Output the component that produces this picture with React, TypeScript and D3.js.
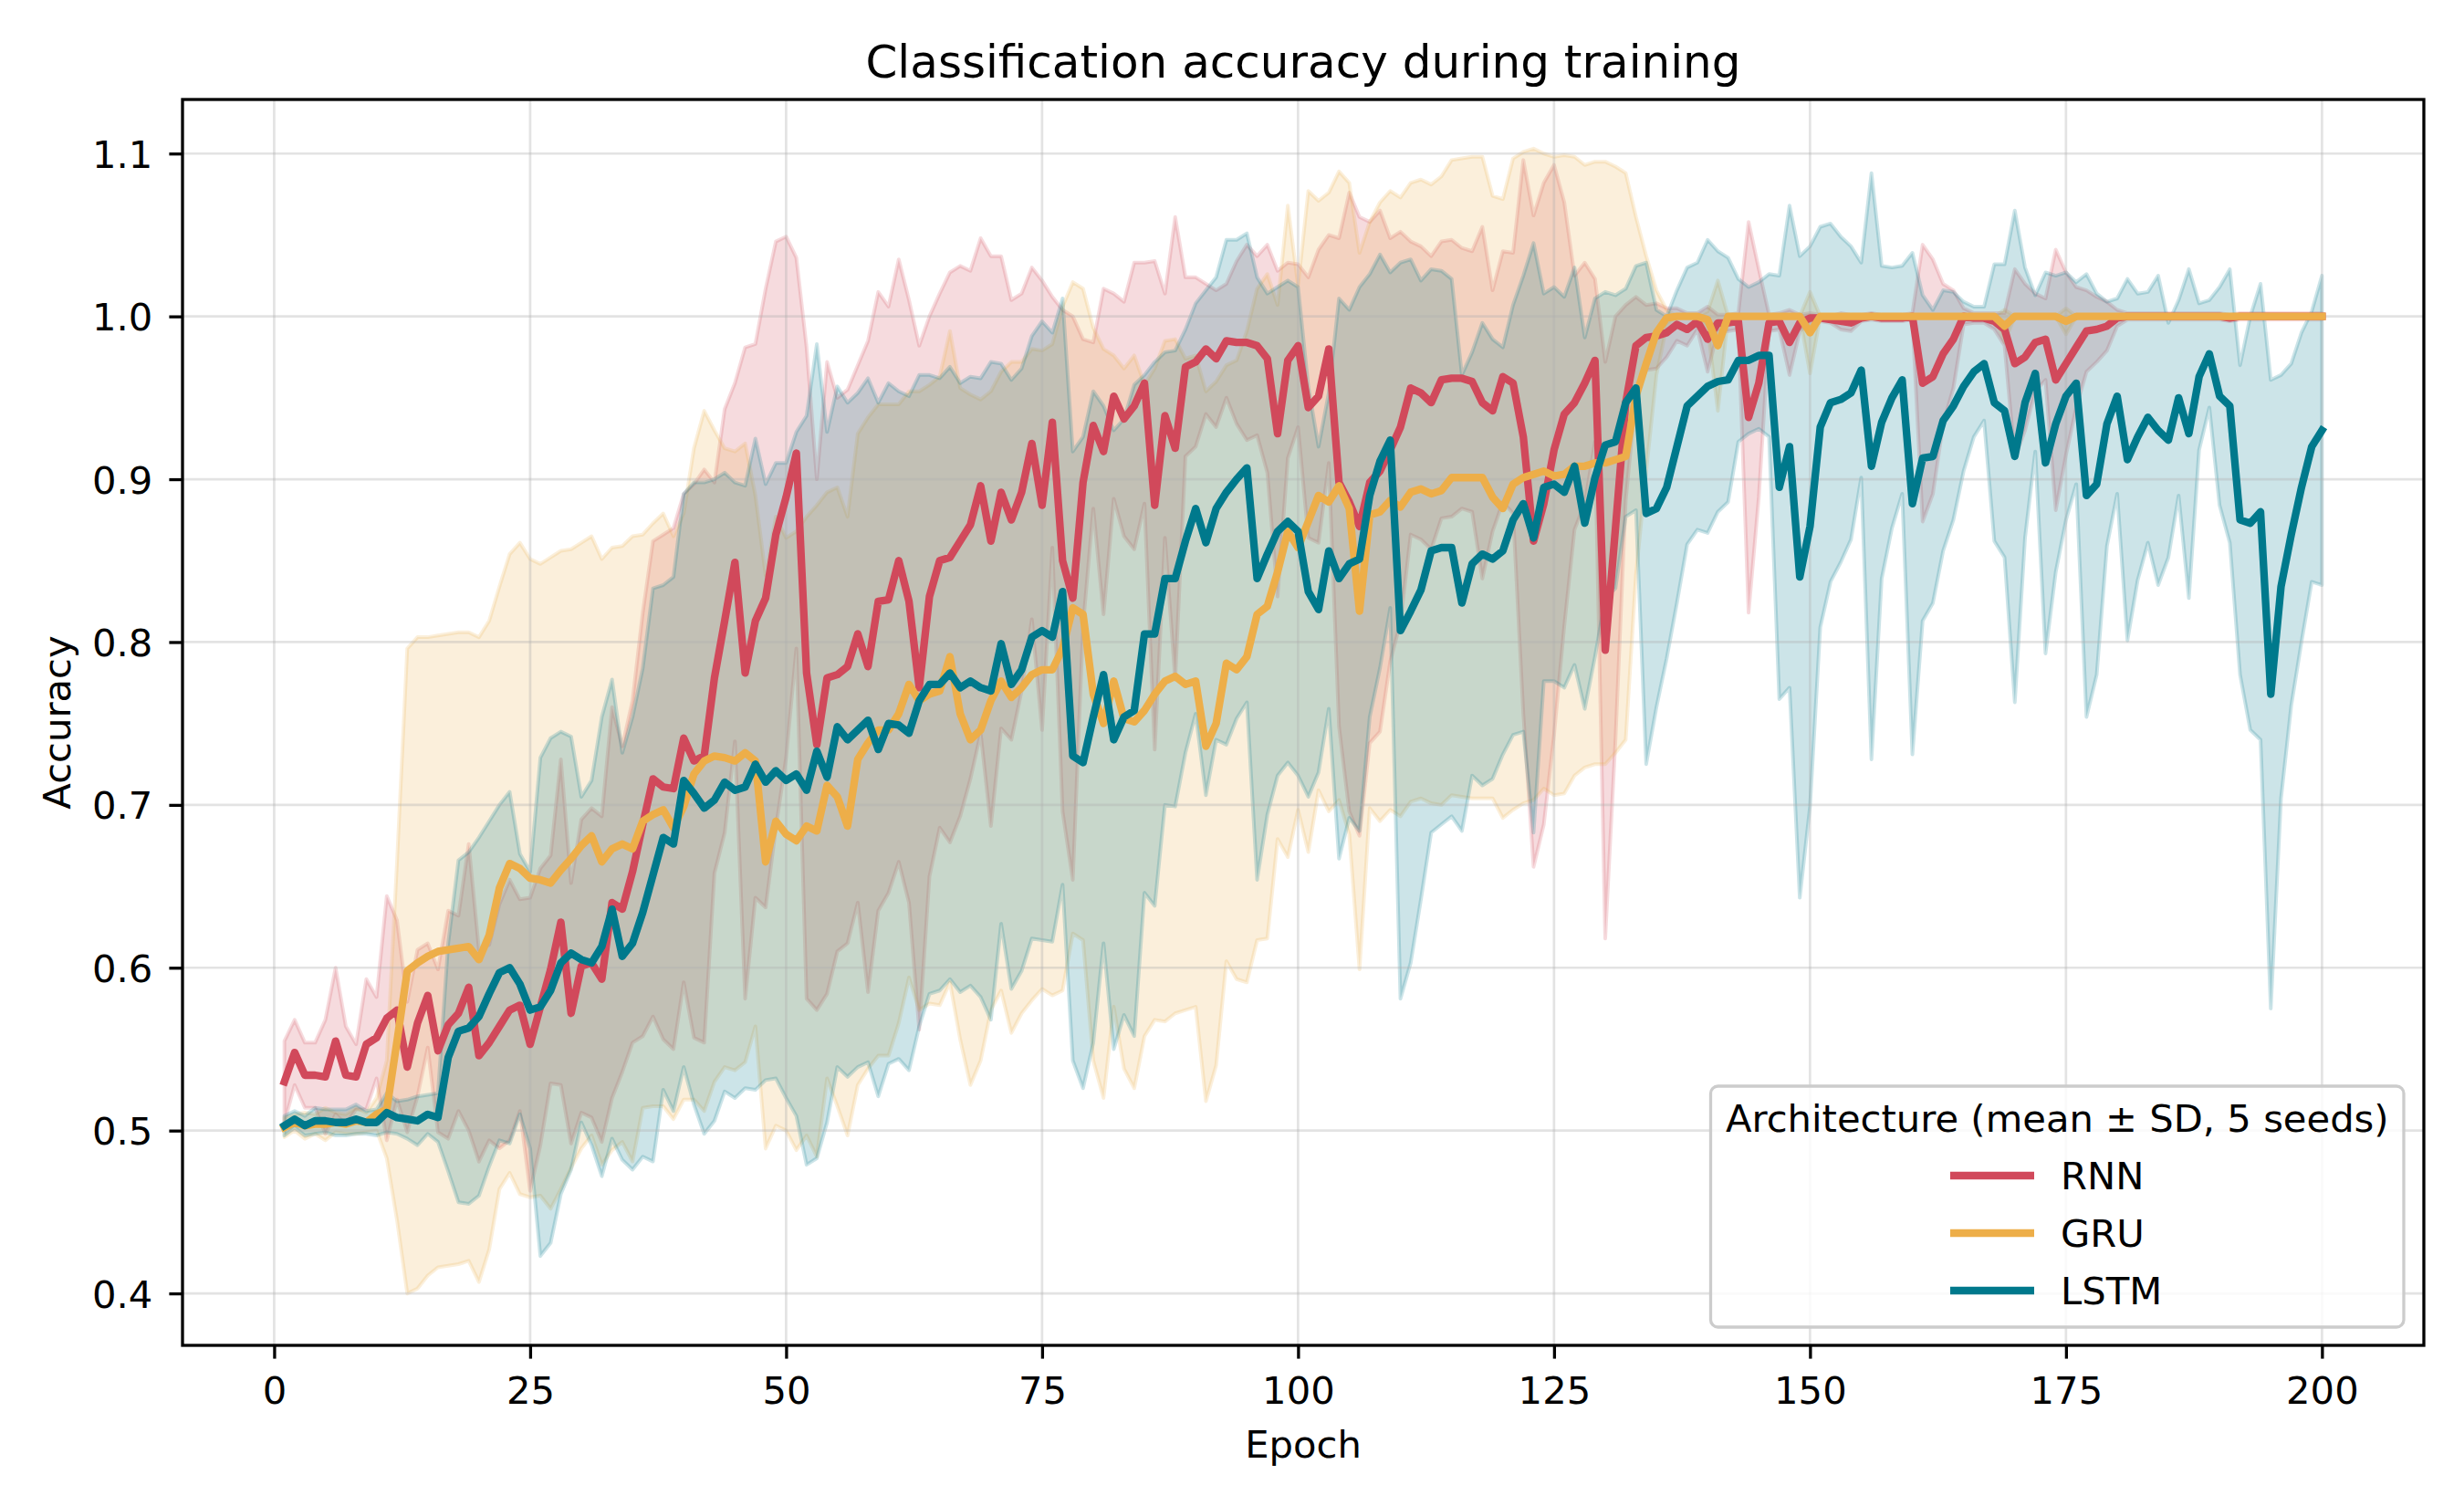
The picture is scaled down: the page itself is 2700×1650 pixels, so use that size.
import React, { useEffect, useRef } from 'react';
import * as d3 from 'd3';

// epochs 1..200
const epochs = d3.range(1, 201);

const rnnMean = [
  0.530, 0.548, 0.534, 0.534, 0.533, 0.555, 0.534, 0.533, 0.553, 0.557,
  0.569, 0.574, 0.539, 0.566, 0.583, 0.549, 0.565, 0.572, 0.588, 0.546,
  0.554, 0.564, 0.574, 0.577, 0.553, 0.576, 0.599, 0.628, 0.572, 0.601,
  0.603, 0.593, 0.640, 0.636, 0.659, 0.688, 0.716, 0.711, 0.710, 0.741,
  0.727, 0.730, 0.778, 0.813, 0.849, 0.781, 0.813, 0.827, 0.866, 0.889,
  0.916, 0.781, 0.737, 0.778, 0.780, 0.785, 0.805, 0.785, 0.825, 0.826,
  0.850, 0.825, 0.772, 0.828, 0.850, 0.852, 0.862, 0.872, 0.896, 0.862,
  0.892, 0.875, 0.892, 0.922, 0.884, 0.935, 0.850, 0.827, 0.898, 0.933,
  0.917, 0.951, 0.937, 0.945, 0.959, 0.884, 0.939, 0.919, 0.969, 0.972,
  0.980, 0.974, 0.985, 0.984, 0.984, 0.982, 0.974, 0.928, 0.973, 0.982,
  0.944, 0.951, 0.980, 0.898, 0.886, 0.871, 0.898, 0.905, 0.918, 0.932,
  0.956, 0.953, 0.947, 0.961, 0.962, 0.962, 0.960, 0.947, 0.942, 0.963,
  0.959, 0.926, 0.862, 0.885, 0.918, 0.940, 0.947, 0.959, 0.973, 0.795,
  0.870, 0.947, 0.982, 0.987, 0.988, 0.990, 0.995, 0.992, 0.997, 0.986,
  0.996, 0.996, 0.997, 0.938, 0.959, 0.996, 0.997, 0.984, 0.996, 0.999,
  0.999, 0.998, 0.997, 0.996, 0.999, 1.000, 0.999, 0.999, 0.999, 1.000,
  0.959, 0.963, 0.977, 0.986, 1.000, 0.999, 0.999, 0.997, 0.992, 0.971,
  0.975, 0.984, 0.986, 0.961, 0.971, 0.981, 0.991, 0.992, 0.994, 0.999,
  1.000, 1.000, 1.000, 1.000, 1.000, 1.000, 1.000, 1.000, 1.000, 1.000,
  0.999, 1.000, 1.000, 1.000, 1.000, 1.000, 1.000, 1.000, 1.000, 1.000,
];

const rnnSd = [
  0.025, 0.02, 0.02, 0.02, 0.035, 0.045, 0.03, 0.02, 0.04, 0.025,
  0.075, 0.055, 0.04, 0.045, 0.032, 0.05, 0.07, 0.06, 0.088, 0.065,
  0.06, 0.075, 0.08, 0.065, 0.09, 0.085, 0.07, 0.1, 0.08, 0.09,
  0.095, 0.1, 0.12, 0.1, 0.105, 0.13, 0.146, 0.155, 0.16, 0.15,
  0.17, 0.176, 0.12, 0.13, 0.11, 0.2, 0.17, 0.19, 0.18, 0.16,
  0.12, 0.2, 0.163, 0.194, 0.17, 0.17, 0.165, 0.2, 0.19, 0.18,
  0.185, 0.185, 0.21, 0.172, 0.164, 0.175, 0.169, 0.156, 0.152, 0.175,
  0.145, 0.135, 0.122, 0.108, 0.138, 0.077, 0.154, 0.173, 0.088, 0.051,
  0.1, 0.063, 0.072, 0.088, 0.074, 0.15, 0.075, 0.142, 0.055, 0.052,
  0.04, 0.042, 0.035, 0.05, 0.06, 0.055, 0.07, 0.1, 0.06, 0.05,
  0.08, 0.09, 0.07, 0.15, 0.19, 0.19, 0.16, 0.16, 0.13, 0.12,
  0.09, 0.09, 0.09, 0.085, 0.085, 0.08, 0.08, 0.108, 0.074, 0.077,
  0.08, 0.17, 0.2, 0.197, 0.175, 0.13, 0.078, 0.074, 0.05, 0.177,
  0.13, 0.06, 0.03, 0.02, 0.02, 0.015, 0.01, 0.01, 0.005, 0.02,
  0.005, 0.005, 0.005, 0.12, 0.07, 0.005, 0.005, 0.02, 0.005, 0.003,
  0.002, 0.002, 0.005, 0.005, 0.002, 0.002, 0.002, 0.002, 0.002, 0.002,
  0.085, 0.072, 0.043, 0.03, 0.005, 0.003, 0.003, 0.005, 0.01, 0.058,
  0.045, 0.03, 0.025, 0.08, 0.056, 0.037, 0.025, 0.02, 0.015, 0.005,
  0.002, 0.002, 0.002, 0.002, 0.002, 0.002, 0.002, 0.002, 0.002, 0.002,
  0.002, 0.002, 0.002, 0.002, 0.002, 0.002, 0.002, 0.002, 0.002, 0.002,
];

const gruMean = [
  0.502, 0.505, 0.503, 0.504, 0.504, 0.505, 0.504, 0.506, 0.505, 0.510,
  0.513, 0.555, 0.598, 0.603, 0.607, 0.610, 0.611, 0.612, 0.613, 0.605,
  0.620, 0.649, 0.664, 0.661, 0.655, 0.654, 0.652, 0.660, 0.667, 0.675,
  0.681, 0.665, 0.673, 0.676, 0.673, 0.690, 0.694, 0.697, 0.686, 0.699,
  0.719, 0.727, 0.730, 0.729, 0.727, 0.732, 0.727, 0.665, 0.690, 0.682,
  0.678, 0.687, 0.684, 0.712, 0.705, 0.687, 0.728, 0.738, 0.746, 0.746,
  0.756, 0.774, 0.764, 0.768, 0.770, 0.791, 0.756, 0.740, 0.746, 0.764,
  0.776, 0.766, 0.772, 0.780, 0.783, 0.783, 0.796, 0.821, 0.817, 0.768,
  0.750, 0.776, 0.753, 0.751, 0.758, 0.768, 0.776, 0.779, 0.774, 0.776,
  0.736, 0.750, 0.787, 0.783, 0.791, 0.817, 0.822, 0.843, 0.868, 0.858,
  0.874, 0.890, 0.886, 0.896, 0.882, 0.819, 0.878, 0.880, 0.887, 0.883,
  0.892, 0.894, 0.891, 0.893, 0.901, 0.901, 0.901, 0.901, 0.889, 0.882,
  0.897, 0.901, 0.903, 0.905, 0.902, 0.903, 0.908, 0.908, 0.910, 0.910,
  0.912, 0.914, 0.951, 0.971, 0.990, 0.999, 1.000, 1.000, 1.000, 0.998,
  0.982, 1.000, 1.000, 1.000, 1.000, 1.000, 1.000, 1.000, 1.000, 0.990,
  1.000, 1.000, 1.000, 1.000, 1.000, 1.000, 1.000, 1.000, 1.000, 1.000,
  1.000, 1.000, 1.000, 1.000, 1.000, 1.000, 1.000, 1.000, 0.994, 1.000,
  1.000, 1.000, 1.000, 1.000, 0.997, 1.000, 1.000, 1.000, 1.000, 1.000,
  1.000, 1.000, 1.000, 1.000, 1.000, 1.000, 1.000, 1.000, 1.000, 1.000,
  1.000, 1.000, 1.000, 1.000, 1.000, 1.000, 1.000, 1.000, 1.000, 1.000,
];

const gruSd = [
  0.006, 0.005, 0.008, 0.006, 0.01, 0.006, 0.006, 0.008, 0.006, 0.01,
  0.03, 0.11, 0.198, 0.2, 0.196, 0.194, 0.194, 0.194, 0.193, 0.198,
  0.193, 0.185, 0.19, 0.2, 0.196, 0.194, 0.2, 0.196, 0.19, 0.186,
  0.184, 0.186, 0.185, 0.183, 0.192, 0.176, 0.179, 0.182, 0.179, 0.18,
  0.2, 0.215, 0.2, 0.19, 0.19, 0.19, 0.163, 0.176, 0.187, 0.182,
  0.19, 0.19, 0.2, 0.18, 0.19, 0.19, 0.2, 0.2, 0.2, 0.2,
  0.19, 0.18, 0.19, 0.19, 0.193, 0.2, 0.2, 0.212, 0.203, 0.19,
  0.19, 0.206, 0.2, 0.2, 0.196, 0.2, 0.21, 0.2, 0.2, 0.225,
  0.23, 0.2, 0.215, 0.225, 0.2, 0.2, 0.209, 0.207, 0.2, 0.2,
  0.218, 0.21, 0.183, 0.19, 0.2, 0.2, 0.204, 0.164, 0.2, 0.161,
  0.203, 0.181, 0.19, 0.193, 0.2, 0.22, 0.18, 0.19, 0.19, 0.19,
  0.19, 0.19, 0.19, 0.193, 0.195, 0.196, 0.197, 0.197, 0.185, 0.19,
  0.2, 0.2, 0.2, 0.195, 0.196, 0.196, 0.19, 0.185, 0.185, 0.185,
  0.18, 0.174, 0.11, 0.066, 0.026, 0.005, 0, 0, 0, 0.005,
  0.04, 0, 0, 0, 0, 0, 0, 0, 0, 0.025,
  0, 0, 0, 0, 0, 0, 0, 0, 0, 0,
  0, 0, 0, 0, 0, 0, 0, 0, 0.01, 0,
  0, 0, 0, 0, 0.008, 0, 0, 0, 0, 0,
  0, 0, 0, 0, 0, 0, 0, 0, 0, 0,
  0, 0, 0, 0, 0, 0, 0, 0, 0, 0,
];

const lstmMean = [
  0.503, 0.507, 0.503, 0.506, 0.506, 0.505, 0.505, 0.507, 0.505, 0.505,
  0.511, 0.508, 0.507, 0.506, 0.510, 0.508, 0.545, 0.561, 0.563, 0.570,
  0.584, 0.597, 0.600, 0.590, 0.574, 0.576, 0.586, 0.603, 0.609, 0.605,
  0.603, 0.613, 0.636, 0.607, 0.615, 0.634, 0.657, 0.680, 0.676, 0.715,
  0.707, 0.698, 0.703, 0.714, 0.709, 0.711, 0.725, 0.714, 0.721, 0.715,
  0.719, 0.709, 0.733, 0.717, 0.748, 0.740, 0.746, 0.752, 0.734, 0.750,
  0.749, 0.744, 0.764, 0.774, 0.774, 0.781, 0.772, 0.776, 0.772, 0.770,
  0.799, 0.774, 0.783, 0.803, 0.807, 0.803, 0.831, 0.730, 0.726, 0.754,
  0.780, 0.740, 0.754, 0.758, 0.805, 0.805, 0.839, 0.839, 0.862, 0.882,
  0.861, 0.882, 0.892, 0.900, 0.907, 0.839, 0.854, 0.868, 0.874, 0.868,
  0.831, 0.820, 0.856, 0.839, 0.848, 0.851, 0.890, 0.911, 0.924, 0.807,
  0.819, 0.832, 0.856, 0.858, 0.858, 0.824, 0.848, 0.854, 0.851, 0.856,
  0.875, 0.885, 0.864, 0.895, 0.897, 0.892, 0.908, 0.873, 0.901, 0.921,
  0.923, 0.947, 0.956, 0.879, 0.882, 0.895, 0.920, 0.945, 0.951, 0.957,
  0.960, 0.961, 0.973, 0.973, 0.976, 0.976, 0.895, 0.920, 0.840, 0.871,
  0.932, 0.947, 0.949, 0.953, 0.967, 0.908, 0.935, 0.950, 0.961, 0.885,
  0.913, 0.914, 0.936, 0.945, 0.957, 0.966, 0.971, 0.947, 0.942, 0.914,
  0.947, 0.965, 0.910, 0.934, 0.951, 0.959, 0.890, 0.897, 0.934, 0.951,
  0.912, 0.926, 0.938, 0.930, 0.924, 0.950, 0.928, 0.963, 0.977, 0.951,
  0.945, 0.875, 0.873, 0.880, 0.768, 0.834, 0.866, 0.895, 0.920, 0.930,
];

const lstmSd = [
  0.006, 0.005, 0.006, 0.008, 0.007, 0.008, 0.008, 0.009, 0.007, 0.008,
  0.012, 0.01, 0.012, 0.015, 0.012, 0.015, 0.07, 0.105, 0.108, 0.11,
  0.106, 0.103, 0.108, 0.08, 0.085, 0.153, 0.155, 0.142, 0.133, 0.1,
  0.112, 0.141, 0.141, 0.125, 0.139, 0.15, 0.176, 0.155, 0.164, 0.176,
  0.191, 0.2, 0.197, 0.19, 0.189, 0.185, 0.2, 0.183, 0.189, 0.195,
  0.21, 0.23, 0.25, 0.212, 0.209, 0.207, 0.207, 0.21, 0.213, 0.209,
  0.205, 0.207, 0.2, 0.19, 0.188, 0.188, 0.187, 0.187, 0.19, 0.202,
  0.172, 0.187, 0.185, 0.185, 0.19, 0.187, 0.18, 0.187, 0.2, 0.2,
  0.165, 0.19, 0.183, 0.2, 0.159, 0.167, 0.139, 0.14, 0.13, 0.126,
  0.155, 0.142, 0.155, 0.147, 0.144, 0.185, 0.16, 0.15, 0.148, 0.15,
  0.126, 0.1, 0.097, 0.172, 0.156, 0.167, 0.136, 0.127, 0.103, 0.226,
  0.216, 0.19, 0.173, 0.17, 0.165, 0.14, 0.13, 0.142, 0.135, 0.125,
  0.132, 0.14, 0.181, 0.119, 0.121, 0.12, 0.122, 0.114, 0.11, 0.094,
  0.09, 0.07, 0.075, 0.154, 0.122, 0.105, 0.096, 0.085, 0.082, 0.09,
  0.08, 0.075, 0.05, 0.045, 0.045, 0.05, 0.13, 0.148, 0.197, 0.172,
  0.123, 0.11, 0.1, 0.09, 0.066, 0.18, 0.096, 0.08, 0.07, 0.154,
  0.1, 0.09, 0.08, 0.07, 0.052, 0.04, 0.035, 0.085, 0.09, 0.151,
  0.083, 0.048, 0.117, 0.091, 0.076, 0.062, 0.136, 0.117, 0.075, 0.06,
  0.111, 0.088, 0.077, 0.095, 0.072, 0.06, 0.101, 0.045, 0.033, 0.067,
  0.084, 0.095, 0.127, 0.14, 0.193, 0.13, 0.105, 0.095, 0.083, 0.095,
];

const xTicks = [0, 25, 50, 75, 100, 125, 150, 175, 200];
const yTicks = [0.4, 0.5, 0.6, 0.7, 0.8, 0.9, 1.0, 1.1];

const series = [
  { name: 'RNN', color: '#d1495b', mean: rnnMean, sd: rnnSd },
  { name: 'GRU', color: '#edae49', mean: gruMean, sd: gruSd },
  { name: 'LSTM', color: '#00798c', mean: lstmMean, sd: lstmSd },
];

const App: React.FC = () => {
  const svgRef = useRef<SVGSVGElement>(null);

  useEffect(() => {
    if (!svgRef.current) return;
    const svg = d3.select(svgRef.current);
    svg.selectAll('*').remove();

    const width = 2700;
    const height = 1650;
    const plot = { left: 200, top: 109, right: 2656, bottom: 1474 };
    const font = "'DejaVu Sans', sans-serif";
    const fs = 41.7;

    const x = d3.scaleLinear().domain([-8.95, 209.95]).range([plot.left, plot.right]);
    const y = d3.scaleLinear().domain([0.3681, 1.1332]).range([plot.bottom, plot.top]);

    svg.append('rect').attr('width', width).attr('height', height).attr('fill', '#fff');

    // SD bands (drawn under grid and lines, like matplotlib collections)
    series.forEach(s => {
      const area = d3
        .area<number>()
        .x((_, i) => x(epochs[i]))
        .y0((m, i) => y(m - s.sd[i]))
        .y1((m, i) => y(m + s.sd[i]));
      svg.append('path')
        .datum(s.mean)
        .attr('d', area)
        .attr('fill', s.color)
        .attr('fill-opacity', 0.2)
        .attr('stroke', s.color)
        .attr('stroke-opacity', 0.2)
        .attr('stroke-width', 4)
        .attr('stroke-linejoin', 'round');
    });

    // Grid
    const grid = svg.append('g').attr('stroke', '#b0b0b0').attr('stroke-opacity', 0.35).attr('stroke-width', 2.7);
    xTicks.forEach(t => {
      grid.append('line').attr('x1', x(t)).attr('x2', x(t)).attr('y1', plot.top).attr('y2', plot.bottom);
    });
    yTicks.forEach(t => {
      grid.append('line').attr('x1', plot.left).attr('x2', plot.right).attr('y1', y(t)).attr('y2', y(t));
    });

    // Mean lines
    series.forEach(s => {
      const line = d3
        .line<number>()
        .x((_, i) => x(epochs[i]))
        .y(m => y(m));
      svg.append('path')
        .datum(s.mean)
        .attr('d', line)
        .attr('fill', 'none')
        .attr('stroke', s.color)
        .attr('stroke-width', 8.3)
        .attr('stroke-linejoin', 'round')
        .attr('stroke-linecap', 'square');
    });

    // Axes
    const xAxis = svg.append('g')
      .attr('transform', `translate(0,${plot.bottom})`)
      .call(d3.axisBottom(x).tickValues(xTicks).tickSize(14.6).tickPadding(20).tickFormat(d3.format('d')));
    const yAxis = svg.append('g')
      .attr('transform', `translate(${plot.left},0)`)
      .call(d3.axisLeft(y).tickValues(yTicks).tickSize(14.6).tickPadding(18).tickFormat(d3.format('.1f')));
    [xAxis, yAxis].forEach(ax => {
      ax.select('.domain').remove();
      ax.selectAll('line').attr('stroke', '#000').attr('stroke-width', 3.3);
      ax.selectAll('text')
        .attr('fill', '#000')
        .style('font-family', font)
        .style('font-size', `${fs}px`);
    });
    yAxis.selectAll('text').attr('dy', '0.36em');

    // Frame
    svg.append('rect')
      .attr('x', plot.left)
      .attr('y', plot.top)
      .attr('width', plot.right - plot.left)
      .attr('height', plot.bottom - plot.top)
      .attr('fill', 'none')
      .attr('stroke', '#000')
      .attr('stroke-width', 3.3);

    // Title and axis labels
    svg.append('text')
      .attr('x', (plot.left + plot.right) / 2)
      .attr('y', 85)
      .attr('text-anchor', 'middle')
      .style('font-family', font)
      .style('font-size', '50px')
      .text('Classification accuracy during training');

    svg.append('text')
      .attr('x', (plot.left + plot.right) / 2)
      .attr('y', 1597)
      .attr('text-anchor', 'middle')
      .style('font-family', font)
      .style('font-size', `${fs}px`)
      .text('Epoch');

    svg.append('text')
      .attr('transform', `translate(77,${(plot.top + plot.bottom) / 2}) rotate(-90)`)
      .attr('text-anchor', 'middle')
      .style('font-family', font)
      .style('font-size', `${fs}px`)
      .text('Accuracy');

    // Legend
    const legend = svg.append('g').attr('transform', 'translate(1874.5,1190)');
    legend.append('rect')
      .attr('width', 759.5)
      .attr('height', 264)
      .attr('rx', 8)
      .attr('fill', '#fff')
      .attr('fill-opacity', 0.8)
      .attr('stroke', '#cccccc')
      .attr('stroke-width', 3.3);
    legend.append('text')
      .attr('x', 379.75)
      .attr('y', 50)
      .attr('text-anchor', 'middle')
      .style('font-family', font)
      .style('font-size', `${fs}px`)
      .text('Architecture (mean \u00b1 SD, 5 seeds)');
    series.forEach((s, i) => {
      const ly = 98 + i * 63;
      legend.append('line')
        .attr('x1', 262.5)
        .attr('x2', 354.5)
        .attr('y1', ly)
        .attr('y2', ly)
        .attr('stroke', s.color)
        .attr('stroke-width', 8.3);
      legend.append('text')
        .attr('x', 383.5)
        .attr('y', ly + 14.7)
        .style('font-family', font)
        .style('font-size', `${fs}px`)
        .text(s.name);
    });
  }, []);

  return (
    <svg
      ref={svgRef}
      width={2700}
      height={1650}
      style={{ position: 'absolute', left: 0, top: 0, display: 'block' }}
    />
  );
};

export default App;
